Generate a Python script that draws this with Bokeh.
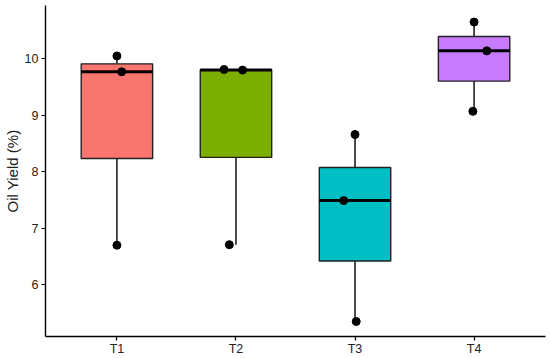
import numpy as np
from bokeh.plotting import figure
from bokeh.models import Range1d, FixedTicker, ColumnDataSource
from bokeh.embed import file_html
from bokeh.resources import INLINE

# ---- data ----
categories = ["T1", "T2", "T3", "T4"]
values_T1 = [10.05, 9.77, 6.70]
values_T2 = [9.81, 9.80, 6.71]
values_T3 = [8.66, 7.49, 5.35]
values_T4 = [10.65, 10.14, 9.07]
jitter_T1 = [0.0, 0.04, 0.0]
jitter_T2 = [-0.10, 0.055, -0.056]
jitter_T3 = [0.0, -0.095, 0.01]
jitter_T4 = [0.0, 0.107, -0.01]
fill_colors = ["#F8766D", "#7CAE00", "#00BFC4", "#C77CFF"]
y_ticks = [6, 7, 8, 9, 10]

groups = [values_T1, values_T2, values_T3, values_T4]
jitters = [jitter_T1, jitter_T2, jitter_T3, jitter_T4]
xpos = [i + 1 for i in range(len(categories))]

q1 = [float(np.percentile(g, 25)) for g in groups]
med = [float(np.percentile(g, 50)) for g in groups]
q3 = [float(np.percentile(g, 75)) for g in groups]
lo = [float(min(g)) for g in groups]
hi = [float(max(g)) for g in groups]

box_w = 0.6
box = ColumnDataSource(dict(
    x=xpos, q1=q1, q3=q3, med=med, lo=lo, hi=hi, color=fill_colors,
    xl=[x - box_w / 2 for x in xpos], xr=[x + box_w / 2 for x in xpos],
))

px, py = [], []
for x, g, j in zip(xpos, groups, jitters):
    for v, d in zip(g, j):
        px.append(x + d)
        py.append(v)

FONT = "Liberation Sans"

p = figure(width=550, height=358, output_backend="svg", toolbar_location=None,
           x_range=Range1d(0.4, 4.6), y_range=Range1d(5.085, 10.943),
           min_border_top=5, min_border_right=5, min_border_left=0, min_border_bottom=0)
p.outline_line_color = None
p.grid.visible = False
p.background_fill_color = "white"
p.border_fill_color = "white"

# whiskers
p.segment(x0="x", y0="q3", x1="x", y1="hi", source=box, line_color="black", line_width=1.4)
p.segment(x0="x", y0="q1", x1="x", y1="lo", source=box, line_color="black", line_width=1.4)
# boxes
p.vbar(x="x", width=box_w, top="q3", bottom="q1", source=box,
       fill_color="color", line_color="#222222", line_width=1.4)
# medians
p.segment(x0="xl", y0="med", x1="xr", y1="med", source=box, line_color="black", line_width=3)
# points
p.scatter(px, py, size=8, color="black")

# axes
p.xaxis.ticker = FixedTicker(ticks=xpos)
p.xaxis.major_label_overrides = {x: c for x, c in zip(xpos, categories)}
p.yaxis.ticker = FixedTicker(ticks=y_ticks)
p.yaxis.axis_label = "Oil Yield (%)"
for ax in (p.xaxis[0], p.yaxis[0]):
    ax.axis_line_color = "black"
    ax.axis_line_width = 1.4
    ax.major_tick_line_color = "black"
    ax.major_tick_line_width = 1.2
    ax.major_tick_out = 4
    ax.major_tick_in = 0
    ax.minor_tick_line_color = None
    ax.major_label_text_font = FONT
    ax.major_label_text_font_size = "12.5px"
    ax.major_label_text_color = "#222222"
p.xaxis.major_label_standoff = 1
p.yaxis.major_label_standoff = 3
p.yaxis.axis_label_text_font = FONT
p.yaxis.axis_label_text_font_size = "15px"
p.yaxis.axis_label_text_font_style = "normal"
p.yaxis.axis_label_text_color = "#222222"
p.yaxis.axis_label_standoff = 1

open("out.html", "w").write(file_html(p, INLINE))
